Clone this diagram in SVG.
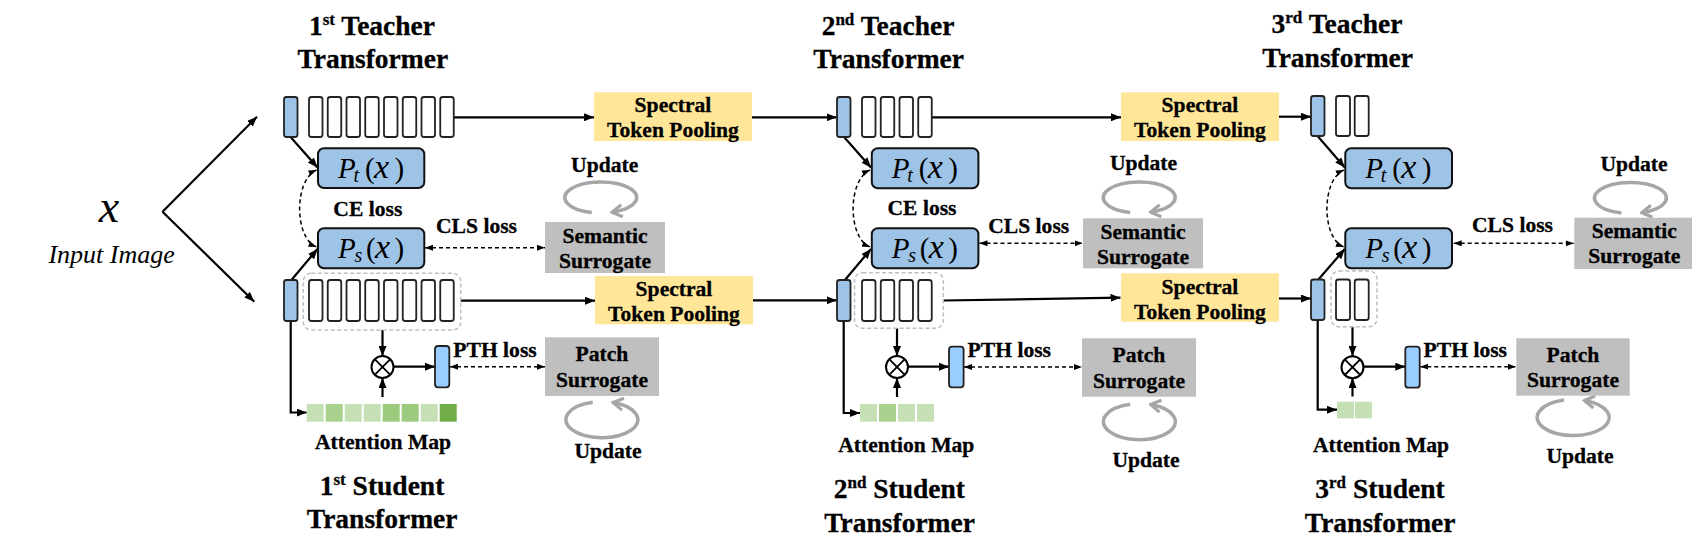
<svg xmlns="http://www.w3.org/2000/svg" width="1692" height="538" viewBox="0 0 1692 538">
<style>
.b{font-family:"Liberation Serif","Times New Roman",serif;font-weight:bold;fill:#000;stroke:#000;stroke-width:0.3}
.t{font-size:27.5px;text-anchor:middle}
.l{font-size:21.6px;text-anchor:middle}
.sup{font-size:17px}
.it{font-family:"Liberation Serif","Times New Roman",serif;font-style:italic;fill:#000}
.m{font-family:"Liberation Serif","Times New Roman",serif;font-size:29px;fill:#000}
.mi{font-style:italic}
.mx{font-style:italic;font-size:34px}
.sub{font-size:20px;font-style:italic}
.cls{fill:#9DC3E6;stroke:#222;stroke-width:1.8}
.tok{fill:#fff;stroke:#222;stroke-width:1.8}
.pth{fill:#99CCFF;stroke:#222;stroke-width:1.8}
.pb{fill:#9DC3E6;stroke:#111;stroke-width:2}
.dbox{fill:none;stroke:#BFBFBF;stroke-width:1.5;stroke-dasharray:4 2.5}
.spec{fill:#FFE699}
.sur{fill:#BFBFBF}
.c{fill:none;stroke:#000;stroke-width:2.2}
.ca{fill:none;stroke:#000;stroke-width:2.2;marker-end:url(#ah)}
.da{fill:none;stroke:#000;stroke-width:1.5;stroke-dasharray:4 3;marker-start:url(#dh);marker-end:url(#dh)}
.loop{fill:none;stroke:#A6A6A6;stroke-width:3.5;marker-end:url(#gh)}
.ot{fill:#fff;stroke:#000;stroke-width:2}
.L{fill:#C5E0B4}.M{fill:#A9D18E}.N{fill:#9CCB7E}.D{fill:#70AD47}
</style>
<defs>
<marker id="ah" viewBox="0 0 10 8" refX="10" refY="4" markerWidth="10" markerHeight="8" markerUnits="userSpaceOnUse" orient="auto"><path d="M0,0 L10,4 L0,8 z" fill="#000"/></marker>
<marker id="dh" viewBox="0 0 8 6" refX="8" refY="3" markerWidth="8" markerHeight="6" markerUnits="userSpaceOnUse" orient="auto-start-reverse"><path d="M0,0 L8,3 L0,6 z" fill="#000"/></marker>
<marker id="gh" viewBox="0 0 14 16" refX="12" refY="8" markerWidth="14" markerHeight="16" markerUnits="userSpaceOnUse" orient="auto"><path d="M2,2 L12,8 L2,14" fill="none" stroke="#A6A6A6" stroke-width="3.2"/></marker>
</defs>

<g id="input">
<text class="it" x="109" y="222" font-size="46" text-anchor="middle">x</text>
<text class="it" x="111.6" y="263" font-size="26" text-anchor="middle">Input Image</text>
</g>

<g id="titles">
<text class="b t" x="372" y="35">1<tspan class="sup" dy="-10">st</tspan><tspan dy="10"> Teacher</tspan></text>
<text class="b t" x="372.8" y="68.3">Transformer</text>
<text class="b t" x="888" y="35">2<tspan class="sup" dy="-10">nd</tspan><tspan dy="10"> Teacher</tspan></text>
<text class="b t" x="888.7" y="68.3">Transformer</text>
<text class="b t" x="1337" y="33.3">3<tspan class="sup" dy="-10">rd</tspan><tspan dy="10"> Teacher</tspan></text>
<text class="b t" x="1337.7" y="66.7">Transformer</text>
<text class="b t" x="382" y="495">1<tspan class="sup" dy="-10">st</tspan><tspan dy="10"> Student</tspan></text>
<text class="b t" x="382.2" y="527.7">Transformer</text>
<text class="b t" x="899.4" y="498.3">2<tspan class="sup" dy="-10">nd</tspan><tspan dy="10"> Student</tspan></text>
<text class="b t" x="899.6" y="531.7">Transformer</text>
<text class="b t" x="1380" y="498.3">3<tspan class="sup" dy="-10">rd</tspan><tspan dy="10"> Student</tspan></text>
<text class="b t" x="1380.2" y="531.7">Transformer</text>
</g>

<g id="connectors">
<path class="ca" d="M162.5,211.7 L257,116.7"/>
<path class="ca" d="M162.5,211.7 L254.3,301.7"/>
<path class="ca" d="M454,117.3 H594"/>
<path class="ca" d="M752,117.3 H836.7"/>
<path class="ca" d="M931.8,117.3 H1121"/>
<path class="ca" d="M1279,116.7 H1311"/>
<path class="ca" d="M460.7,300.7 H595"/>
<path class="ca" d="M753,300.3 H836.7"/>
<path class="ca" d="M943.3,300.5 L1120.5,297.7"/>
<path class="ca" d="M1279,298.5 H1311"/>
<path class="ca" d="M291,137.5 L317.5,167.5"/>
<path class="ca" d="M291,280.5 L317.5,249"/>
<path class="ca" d="M844.5,137.5 L871,167.5"/>
<path class="ca" d="M844.5,280.5 L871,249"/>
<path class="ca" d="M1318,136.5 L1344.8,167.5"/>
<path class="ca" d="M1318,280 L1344.8,249"/>
<path class="da" d="M316.5,170 C294,180 294,238 316.5,247"/>
<path class="da" d="M870,170 C847.5,180 847.5,238 870,247"/>
<path class="da" d="M1343.8,170 C1321.3,180 1321.3,238 1343.8,247"/>
<path class="da" d="M425,247.7 H545"/>
<path class="da" d="M979.5,243.3 H1082.5"/>
<path class="da" d="M1453.7,243.3 H1573.7"/>
<path class="da" d="M450,366.7 H545"/>
<path class="da" d="M964,367 H1082"/>
<path class="da" d="M1420.3,366.7 H1515.8"/>
<path class="ca" d="M290.7,321 V412.5 H306.7"/>
<path class="ca" d="M843.7,321 V413 H860"/>
<path class="ca" d="M1317.7,320 V409.7 H1337"/>
<path class="ca" d="M382.5,330 V356"/>
<path class="ca" d="M382.5,397 V378"/>
<path class="ca" d="M393.5,366.7 H435"/>
<path class="ca" d="M897,328.3 V356"/>
<path class="ca" d="M897,397 V378"/>
<path class="ca" d="M908,366.7 H949"/>
<path class="ca" d="M1352.5,326.7 V356"/>
<path class="ca" d="M1352.5,396.5 V378"/>
<path class="ca" d="M1363.5,366.7 H1405.3"/>
<path class="loop" d="M591.7,212.5 A36,15.5 0 1 1 612.1,212.2"/>
<path class="loop" d="M1130.2,212.5 A36,15.5 0 1 1 1150.6,212.2"/>
<path class="loop" d="M1621.4,213 A36,15.5 0 1 1 1641.8,212.7"/>
<path class="loop" d="M592.7,402.3 A36,18 0 1 0 613.1,402.6"/>
<path class="loop" d="M1130.2,404.3 A36,18 0 1 0 1150.6,404.6"/>
<path class="loop" d="M1564,400.1 A36,18 0 1 0 1584.4,400.4"/>
</g>

<g id="teacher1">
<rect class="cls" x="284" y="97" width="13.5" height="40" rx="2.5"/>
<rect class="tok" x="309" y="97" width="13.5" height="40" rx="2.5"/>
<rect class="tok" x="327.75" y="97" width="13.5" height="40" rx="2.5"/>
<rect class="tok" x="346.5" y="97" width="13.5" height="40" rx="2.5"/>
<rect class="tok" x="365.25" y="97" width="13.5" height="40" rx="2.5"/>
<rect class="tok" x="384" y="97" width="13.5" height="40" rx="2.5"/>
<rect class="tok" x="402.75" y="97" width="13.5" height="40" rx="2.5"/>
<rect class="tok" x="421.5" y="97" width="13.5" height="40" rx="2.5"/>
<rect class="tok" x="440.25" y="97" width="13.5" height="40" rx="2.5"/>
</g>
<g id="pt1">
<rect class="pb" x="318" y="148.3" width="106.3" height="39.7" rx="6"/>
<text class="m" y="177.7"><tspan class="mi" x="338">P</tspan><tspan class="sub" x="353.5" dy="4">t</tspan><tspan x="365" dy="-4">(</tspan><tspan class="mx" x="374">x</tspan><tspan x="394.5">)</tspan></text>
</g>
<g id="ps1">
<rect class="pb" x="318" y="228.3" width="106.3" height="40" rx="6"/>
<text class="m" y="257.7"><tspan class="mi" x="338">P</tspan><tspan class="sub" x="354.5" dy="4">s</tspan><tspan x="366" dy="-4">(</tspan><tspan class="mx" x="375">x</tspan><tspan x="394.5">)</tspan></text>
</g>
<g id="student1">
<rect class="dbox" x="303.3" y="273.3" width="157.4" height="56.7" rx="8"/>
<rect class="cls" x="284" y="280" width="13.5" height="41" rx="2.5"/>
<rect class="tok" x="309" y="280" width="13.5" height="41" rx="2.5"/>
<rect class="tok" x="327.75" y="280" width="13.5" height="41" rx="2.5"/>
<rect class="tok" x="346.5" y="280" width="13.5" height="41" rx="2.5"/>
<rect class="tok" x="365.25" y="280" width="13.5" height="41" rx="2.5"/>
<rect class="tok" x="384" y="280" width="13.5" height="41" rx="2.5"/>
<rect class="tok" x="402.75" y="280" width="13.5" height="41" rx="2.5"/>
<rect class="tok" x="421.5" y="280" width="13.5" height="41" rx="2.5"/>
<rect class="tok" x="440.25" y="280" width="13.5" height="41" rx="2.5"/>
</g>
<g id="otimes1">
<circle class="ot" cx="382.5" cy="367" r="11"/>
<path class="c" style="stroke-width:1.8" d="M374.7,359.2 L390.3,374.8 M390.3,359.2 L374.7,374.8"/>
</g>
<g id="pthtoken1"><rect class="pth" x="435" y="346" width="14.3" height="41.3" rx="3"/></g>
<g id="attn1">
<rect class="L" x="306.7" y="404" width="17" height="17.7"/>
<rect class="M" x="325.7" y="404" width="17" height="17.7"/>
<rect class="L" x="344.7" y="404" width="17" height="17.7"/>
<rect class="L" x="363.7" y="404" width="17" height="17.7"/>
<rect class="N" x="382.7" y="404" width="17" height="17.7"/>
<rect class="N" x="401.7" y="404" width="17" height="17.7"/>
<rect class="L" x="420.7" y="404" width="17" height="17.7"/>
<rect class="D" x="439.7" y="404" width="17" height="17.7"/>
<text class="b l" x="383" y="449.3">Attention Map</text>
</g>
<g id="labels1">
<text class="b l" x="367.8" y="215.7">CE loss</text>
<text class="b l" x="476.5" y="233.3">CLS loss</text>
<text class="b l" x="495" y="356.7">PTH loss</text>
</g>
<g id="spectral1">
<rect class="spec" x="594" y="92.3" width="158" height="48.7"/>
<text class="b l" x="673" y="112.3">Spectral</text>
<text class="b l" x="673" y="137.3">Token Pooling</text>
</g>
<g id="spectral2">
<rect class="spec" x="595" y="276" width="158" height="48.3"/>
<text class="b l" x="674" y="296.3">Spectral</text>
<text class="b l" x="674" y="321">Token Pooling</text>
</g>
<g id="semantic1">
<rect class="sur" x="545" y="222" width="120" height="51"/>
<text class="b l" x="605" y="242.7">Semantic</text>
<text class="b l" x="605" y="267.7">Surrogate</text>
<text class="b l" x="604.7" y="172">Update</text>
</g>
<g id="patch1">
<rect class="sur" x="545" y="337.3" width="114" height="58.6"/>
<text class="b l" x="602" y="361">Patch</text>
<text class="b l" x="602" y="387.3">Surrogate</text>
<text class="b l" x="608" y="458.3">Update</text>
</g>

<g id="teacher2">
<rect class="cls" x="837" y="97" width="13.5" height="40" rx="2.5"/>
<rect class="tok" x="862" y="97" width="13.5" height="40" rx="2.5"/>
<rect class="tok" x="880.75" y="97" width="13.5" height="40" rx="2.5"/>
<rect class="tok" x="899.5" y="97" width="13.5" height="40" rx="2.5"/>
<rect class="tok" x="918.25" y="97" width="13.5" height="40" rx="2.5"/>
</g>
<g id="pt2">
<rect class="pb" x="871.8" y="148.3" width="106.6" height="40" rx="6"/>
<text class="m" y="177.7"><tspan class="mi" x="891.8">P</tspan><tspan class="sub" x="907.3" dy="4">t</tspan><tspan x="918.8" dy="-4">(</tspan><tspan class="mx" x="927.8">x</tspan><tspan x="948.3">)</tspan></text>
</g>
<g id="ps2">
<rect class="pb" x="871.8" y="228.3" width="106.6" height="40" rx="6"/>
<text class="m" y="257.7"><tspan class="mi" x="891.8">P</tspan><tspan class="sub" x="908.3" dy="4">s</tspan><tspan x="919.8" dy="-4">(</tspan><tspan class="mx" x="928.8">x</tspan><tspan x="948.3">)</tspan></text>
</g>
<g id="student2">
<rect class="dbox" x="854.5" y="272.7" width="88.8" height="55.6" rx="8"/>
<rect class="cls" x="837" y="280" width="13.5" height="41" rx="2.5"/>
<rect class="tok" x="862" y="280" width="13.5" height="41" rx="2.5"/>
<rect class="tok" x="880.75" y="280" width="13.5" height="41" rx="2.5"/>
<rect class="tok" x="899.5" y="280" width="13.5" height="41" rx="2.5"/>
<rect class="tok" x="918.25" y="280" width="13.5" height="41" rx="2.5"/>
</g>
<g id="otimes2">
<circle class="ot" cx="897" cy="367" r="11"/>
<path class="c" style="stroke-width:1.8" d="M889.2,359.2 L904.8,374.8 M904.8,359.2 L889.2,374.8"/>
</g>
<g id="pthtoken2"><rect class="pth" x="949" y="346.7" width="14.6" height="40.6" rx="3"/></g>
<g id="attn2">
<rect class="L" x="860" y="404" width="17" height="17.7"/>
<rect class="M" x="879" y="404" width="17" height="17.7"/>
<rect class="L" x="898" y="404" width="17" height="17.7"/>
<rect class="L" x="917" y="404" width="17" height="17.7"/>
<text class="b l" x="906.3" y="451.7">Attention Map</text>
</g>
<g id="labels2">
<text class="b l" x="922" y="215">CE loss</text>
<text class="b l" x="1028.7" y="233.3">CLS loss</text>
<text class="b l" x="1009.3" y="356.7">PTH loss</text>
</g>
<g id="spectral3">
<rect class="spec" x="1121" y="92.3" width="158" height="48.7"/>
<text class="b l" x="1200" y="112.3">Spectral</text>
<text class="b l" x="1200" y="137.3">Token Pooling</text>
</g>
<g id="spectral4">
<rect class="spec" x="1121" y="273.3" width="158" height="48.4"/>
<text class="b l" x="1200" y="293.6">Spectral</text>
<text class="b l" x="1200" y="318.6">Token Pooling</text>
</g>
<g id="semantic2">
<rect class="sur" x="1083" y="218.3" width="120" height="50"/>
<text class="b l" x="1143" y="239">Semantic</text>
<text class="b l" x="1143" y="264">Surrogate</text>
<text class="b l" x="1143.5" y="170">Update</text>
</g>
<g id="patch2">
<rect class="sur" x="1082" y="338.3" width="114" height="58.4"/>
<text class="b l" x="1139" y="362">Patch</text>
<text class="b l" x="1139" y="388.3">Surrogate</text>
<text class="b l" x="1146" y="466.7">Update</text>
</g>

<g id="teacher3">
<rect class="cls" x="1311" y="96" width="13.5" height="40" rx="2.5"/>
<rect class="tok" x="1336" y="96" width="14" height="40" rx="2.5"/>
<rect class="tok" x="1354.7" y="96" width="14" height="40" rx="2.5"/>
</g>
<g id="pt3">
<rect class="pb" x="1345.3" y="148.3" width="106.7" height="40" rx="6"/>
<text class="m" y="177.7"><tspan class="mi" x="1365.3">P</tspan><tspan class="sub" x="1380.8" dy="4">t</tspan><tspan x="1392.3" dy="-4">(</tspan><tspan class="mx" x="1401.3">x</tspan><tspan x="1421.8">)</tspan></text>
</g>
<g id="ps3">
<rect class="pb" x="1345.3" y="228.3" width="106.7" height="40" rx="6"/>
<text class="m" y="257.7"><tspan class="mi" x="1365.3">P</tspan><tspan class="sub" x="1381.8" dy="4">s</tspan><tspan x="1393.3" dy="-4">(</tspan><tspan class="mx" x="1402.3">x</tspan><tspan x="1421.8">)</tspan></text>
</g>
<g id="student3">
<rect class="dbox" x="1331" y="271" width="46" height="55.7" rx="8"/>
<rect class="cls" x="1311" y="279.5" width="13.5" height="40.5" rx="2.5"/>
<rect class="tok" x="1336" y="279.5" width="14" height="40.5" rx="2.5"/>
<rect class="tok" x="1354.7" y="279.5" width="14" height="40.5" rx="2.5"/>
</g>
<g id="otimes3">
<circle class="ot" cx="1352.5" cy="367.2" r="11"/>
<path class="c" style="stroke-width:1.8" d="M1344.7,359.4 L1360.3,375 M1360.3,359.4 L1344.7,375"/>
</g>
<g id="pthtoken3"><rect class="pth" x="1405.3" y="346.7" width="14.4" height="41" rx="3"/></g>
<g id="attn3">
<rect class="L" x="1337" y="401.7" width="17" height="16.7"/>
<rect class="L" x="1355" y="401.7" width="17" height="16.7"/>
<text class="b l" x="1381" y="451.7">Attention Map</text>
</g>
<g id="labels3">
<text class="b l" x="1512.5" y="231.7">CLS loss</text>
<text class="b l" x="1465.3" y="356.7">PTH loss</text>
</g>
<g id="semantic3">
<rect class="sur" x="1574.3" y="217.7" width="120" height="51.3"/>
<text class="b l" x="1634.3" y="238.3">Semantic</text>
<text class="b l" x="1634.3" y="263.3">Surrogate</text>
<text class="b l" x="1634" y="170.7">Update</text>
</g>
<g id="patch3">
<rect class="sur" x="1516.3" y="338.3" width="113.4" height="57.4"/>
<text class="b l" x="1573" y="361.7">Patch</text>
<text class="b l" x="1573" y="387.3">Surrogate</text>
<text class="b l" x="1580" y="463.3">Update</text>
</g>
</svg>
